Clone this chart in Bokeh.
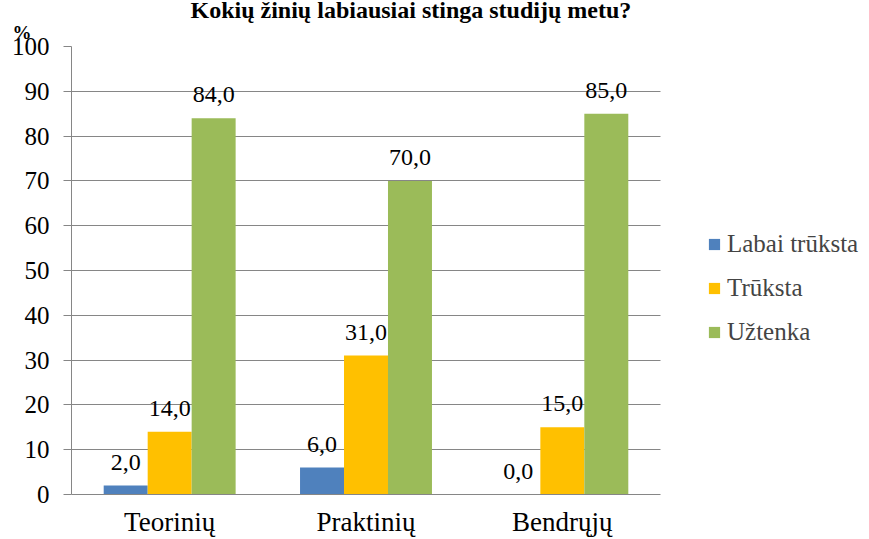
from bokeh.plotting import figure
from bokeh.models import (Range1d, ColumnDataSource, LabelSet, Legend, LegendItem,
                          Title, SingleIntervalTicker, FixedTicker)
from bokeh.embed import file_html
from bokeh.resources import INLINE

# ---- data ----
categories = ["Teorinių", "Praktinių", "Bendrųjų"]
series_names = ["Labai trūksta", "Trūksta", "Užtenka"]
labai_truksta = [2.0, 6.0, 0.0]
truksta = [14.0, 31.0, 15.0]
uztenka = [84.0, 70.0, 85.0]
series_values = [labai_truksta, truksta, uztenka]
colors = ["#4F81BD", "#FFC000", "#9BBB59"]
title_text = "Kokių žinių labiausiai stinga studijų metu?"
y_unit = "%"

FONT = "Liberation Serif"
GRID = "#868686"

# category slots sit at 0.5, 1.5, 2.5; the frame continues to the right to hold the legend
n_cat = len(categories)
cat_pos = [i + 0.5 for i in range(n_cat)]
x_end = n_cat * 798 / 589

p = figure(x_range=Range1d(0, x_end), y_range=Range1d(0, 100),
           width=869, height=539,
           min_border_left=71, min_border_right=0,
           min_border_top=46, min_border_bottom=45,
           output_backend="svg", toolbar_location=None)
p.outline_line_color = None
p.background_fill_color = "white"
p.border_fill_color = "white"

bar_w = 0.224
offsets = [-bar_w, 0.0, bar_w]
renderers = []
for name, vals, col, off in zip(series_names, series_values, colors, offsets):
    src = ColumnDataSource(dict(x=[c + off for c in cat_pos], val=vals,
                                txt=[f"{v:.1f}".replace(".", ",") for v in vals]))
    r = p.vbar(x="x", top="val", bottom=0, width=bar_w, source=src,
               fill_color=col, line_color=None)
    renderers.append((name, r))
    p.add_layout(LabelSet(x="x", y="val", text="txt", source=src,
                          text_align="center", text_baseline="alphabetic",
                          y_offset=16, text_font=FONT, text_font_size="24px",
                          text_color="black"))

# x axis: category names at the slot centres, line only under the categories
p.xaxis.ticker = FixedTicker(ticks=cat_pos)
p.xaxis.major_label_overrides = {c: name for c, name in zip(cat_pos, categories)}
p.xaxis.bounds = (0, n_cat)
p.xaxis.axis_line_color = GRID
p.xaxis.major_tick_out = 0
p.xaxis.major_tick_in = 0
p.xaxis.minor_tick_line_color = None
p.xaxis.major_label_standoff = 12
p.xaxis.major_label_text_font = FONT
p.xaxis.major_label_text_font_size = "27px"
p.xaxis.major_label_text_color = "black"

p.yaxis.ticker = SingleIntervalTicker(interval=10, num_minor_ticks=0)
p.yaxis.axis_line_color = GRID
p.yaxis.major_tick_out = 8
p.yaxis.major_tick_in = 0
p.yaxis.major_tick_line_color = GRID
p.yaxis.minor_tick_line_color = None
p.yaxis.major_label_standoff = 14
p.yaxis.major_label_text_font = FONT
p.yaxis.major_label_text_font_size = "25px"
p.yaxis.major_label_text_color = "black"

p.xgrid.grid_line_color = None
p.ygrid.grid_line_color = GRID
p.ygrid.grid_line_width = 1
p.ygrid.cross_bounds = (0, n_cat)

# legend inside the right part of the frame
legend = Legend(items=[LegendItem(label=n, renderers=[r]) for n, r in renderers],
                location=(636, 148), orientation="vertical",
                label_text_font=FONT, label_text_font_size="25px",
                glyph_width=14, glyph_height=14, label_height=27,
                spacing=16, padding=0, margin=0, label_standoff=6,
                border_line_color=None, background_fill_alpha=0)
p.add_layout(legend, "center")

# unit label above the y axis, then the chart title (which may share vertical
# space with the unit label since they do not overlap horizontally)
p.add_layout(Title(text=y_unit, align="left", offset=-59, standoff=7,
                   text_font=FONT, text_font_size="19px", text_font_style="bold",
                   text_color="black"), "above")
p.add_layout(Title(text=title_text, align="left", offset=119, standoff=-13,
                   text_font=FONT, text_font_size="24px", text_font_style="bold",
                   text_color="black"), "above")

open("out.html", "w").write(file_html(p, INLINE))
